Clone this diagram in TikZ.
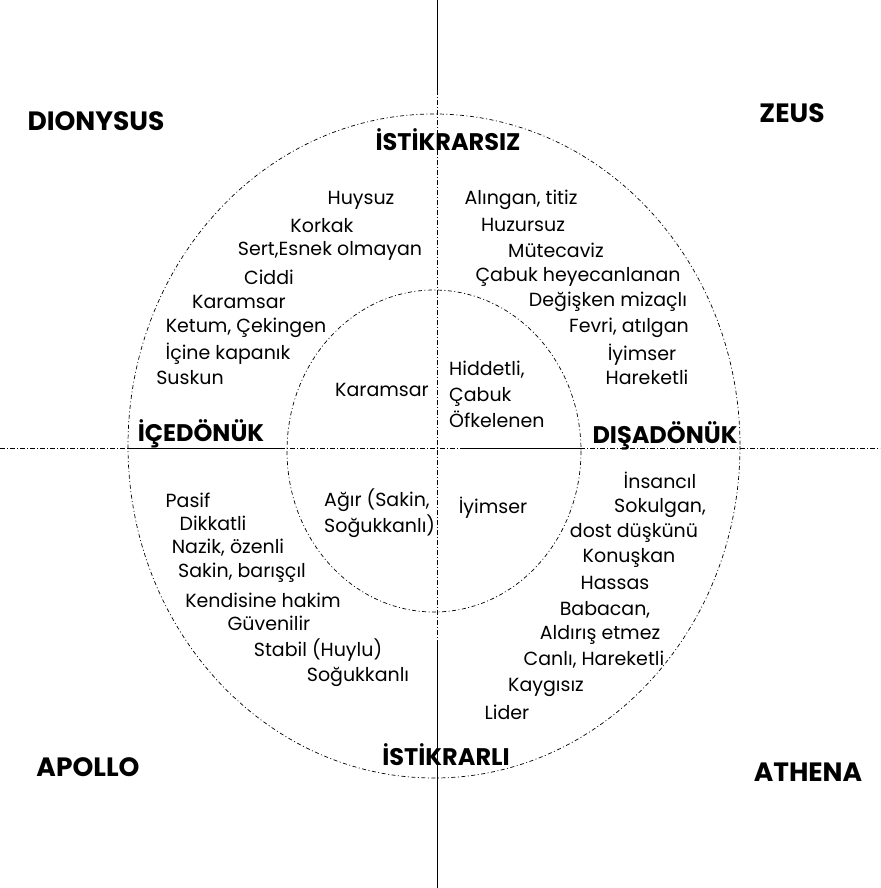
\documentclass[tikz,border=0pt]{standalone}
\usepackage{fontspec}
\setmainfont{Poppins}
\newfontfamily\headfont{Poppins}
\begin{document}
\begin{tikzpicture}[x=1pt,y=-1pt,
  body/.style={font=\fontsize{19}{26}\selectfont, inner sep=0pt},
  head/.style={font=\headfont\bfseries\fontsize{26.5}{28}\selectfont, inner sep=0pt},
  axhead/.style={font=\headfont\bfseries\fontsize{24}{26}\selectfont, inner sep=0pt},
  axisline/.style={line width=0.7pt, dash pattern=on 5pt off 2pt on 1pt off 2pt},
  ringline/.style={line width=0.7pt, dash pattern=on 4pt off 2.5pt on 1pt off 2.5pt},
  solidpart/.style={line width=0.8pt}]
\useasboundingbox (0,0) rectangle (880,888);
% axes
\coordinate (vt) at (437,0);
\coordinate (vb) at (437,888);
\coordinate (hl) at (0,448);
\coordinate (hr) at (880,448);
\draw[axisline] (vt) -- (vb);
\draw[axisline] (hl) -- (hr);
\coordinate (s1a) at (437,0);   \coordinate (s1b) at (437,95);
\coordinate (s2a) at (437,640); \coordinate (s2b) at (437,888);
\coordinate (s3a) at (128,448); \coordinate (s3b) at (280,448);
\coordinate (s4a) at (465,448); \coordinate (s4b) at (580,448);
\draw[solidpart] (s1a) -- (s1b);
\draw[solidpart] (s2a) -- (s2b);
\draw[solidpart] (s3a) -- (s3b);
\draw[solidpart] (s4a) -- (s4b);
% rings
\draw[ringline] (434,446) ellipse [x radius=306, y radius=332];
\draw[ringline] (434,451) ellipse [x radius=147, y radius=161];
% corner headings
\node[head] (dio) at (96,121) {DIONYSUS};
\node[head] (zeus) at (792,113) {ZEUS};
\node[head] (apo) at (88,767) {APOLLO};
\node[head] (ath) at (808,772) {ATHENA};
% axis headings
\node[axhead] (ist1) at (448,140) {İSTİKRARSIZ};
\node[axhead] (ist2) at (446,755) {İSTİKRARLI};
\node[axhead] (ice) at (201,434) {İÇEDÖNÜK};
\node[axhead] (dis) at (665,436) {DIŞADÖNÜK};
% top-left
\node[body] (tl1) at (361,200) {Huysuz};
\node[body] (tl2) at (322,226) {Korkak};
\node[body] (tl3) at (330,251) {Sert,Esnek olmayan};
\node[body] (tl4) at (269,277) {Ciddi};
\node[body] (tl5) at (239,302) {Karamsar};
\node[body] (tl6) at (246,328) {Ketum, Çekingen};
\node[body] (tl7) at (228,354) {İçine kapanık};
\node[body] (tl8) at (190,378) {Suskun};
\node[body] (tli) at (382,390) {Karamsar};
% top-right
\node[body] (tr1) at (521,200) {Alıngan, titiz};
\node[body] (tr2) at (523,225) {Huzursuz};
\node[body] (tr3) at (556,250) {Mütecaviz};
\node[body] (tr4) at (578,277) {Çabuk heyecanlanan};
\node[body] (tr5) at (608,302) {Değişken mizaçlı};
\node[body] (tr6) at (629,328) {Fevri, atılgan};
\node[body] (tr7) at (642,355) {İyimser};
\node[body] (tr8) at (647,377) {Hareketli};
\node[body, align=left, anchor=west] (tri) at (449,394) {Hiddetli,\\Çabuk\\Öfkelenen};
% bottom-left
\node[body] (bl1) at (188,500) {Pasif};
\node[body] (bl2) at (213,523) {Dikkatli};
\node[body] (bl3) at (228,548) {Nazik, özenli};
\node[body] (bl4) at (242,573) {Sakin, barışçıl};
\node[body] (bl5) at (263,600) {Kendisine hakim};
\node[body] (bl6) at (269,623) {Güvenilir};
\node[body] (bl7) at (318,650) {Stabil (Huylu)};
\node[body] (bl8) at (358,677) {Soğukkanlı};
\node[body, align=left, anchor=west] (bli) at (324,513) {Ağır (Sakin,\\Soğukkanlı)};
% bottom-right
\node[body] (bri) at (493,508) {İyimser};
\node[body] (br1) at (660,480) {İnsancıl};
\node[body] (br2) at (660,508) {Sokulgan,};
\node[body] (br3) at (634,533) {dost düşkünü};
\node[body] (br4) at (629,558) {Konuşkan};
\node[body] (br5) at (615,583) {Hassas};
\node[body] (br6) at (605,610) {Babacan,};
\node[body] (br7) at (600,635) {Aldırış etmez};
\node[body] (br8) at (594,660) {Canlı, Hareketli};
\node[body] (br9) at (546,687) {Kaygısız};
\node[body] (br10) at (507,712) {Lider};
\end{tikzpicture}
\end{document}
